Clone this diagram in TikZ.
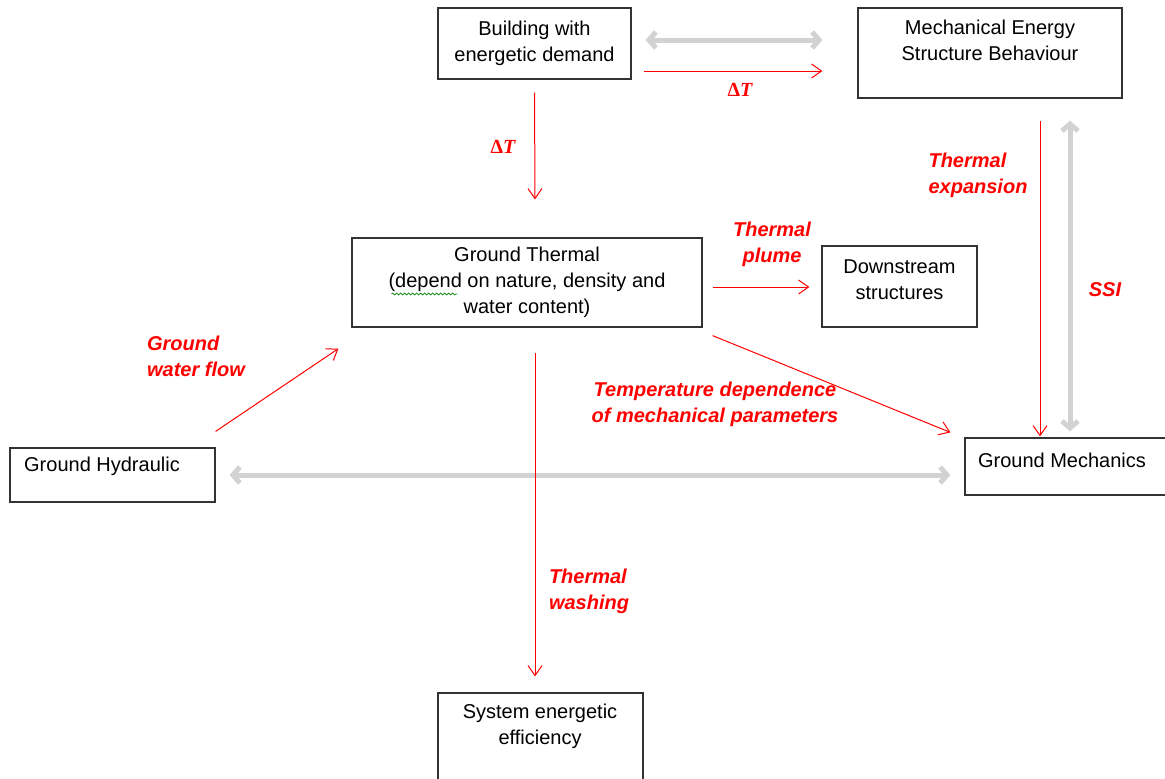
\documentclass[tikz,border=0pt]{standalone}
\usepackage{fontspec}
\setmainfont{Liberation Sans}
\newfontfamily\dtfont{Liberation Serif}
\usetikzlibrary{arrows.meta,calc,decorations.pathmorphing}
\tikzset{heat/.style={red, line width=0.5pt, -{Straight Barb[length=5pt,width=7pt]}},
  couple/.style={gray!35, line width=2.5pt, {Straight Barb[length=3.5pt,width=8pt]}-{Straight Barb[length=3.5pt,width=8pt]}},
  txt/.style={align=center, font=\fontsize{10}{13}\selectfont, inner sep=0pt},
  blk/.style={txt, draw=black!80, line width=0.6pt},
  lbl/.style={text=red, font=\fontsize{10}{13}\selectfont\bfseries\itshape, inner sep=0pt}}
\newcommand{\dT}{{\dtfont\bfseries\fontsize{10}{13}\selectfont\upshape Δ\itshape T}}

\begin{document}
\begin{tikzpicture}[x=0.5pt,y=0.5pt]
  \useasboundingbox (0,0) rectangle (1165,-778);
  \clip (0,0) rectangle (1165,-778);
  % boxes
  \node[blk, minimum width=96.5pt, minimum height=35.5pt] (bld) at (534.5,-43.5) {Building with\\energetic demand};
  \node[blk, minimum width=132pt, minimum height=45pt] (mes) at (990,-53) {};
  \node[txt] (mes-t) at (990,-40) {Mechanical Energy\\Structure Behaviour};
  \node[blk, minimum width=175pt, minimum height=44.5pt] (gth) at (527,-282.5) {Ground Thermal\\(depend on nature, density and\\water content)};
  \node[blk, minimum width=77.5pt, minimum height=40.5pt] (dst) at (899.5,-286.5) {};
  \node[txt] (dst-t) at (899.5,-279.5) {Downstream\\structures};
  \node[blk, minimum width=102.5pt, minimum height=27pt] (ghy) at (112.5,-475) {};
  \node[txt] (ghy-t) at (102,-466) {Ground Hydraulic};
  \node[blk, minimum width=105pt, minimum height=28.5pt] (gme) at (1070,-466.5) {};
  \node[txt] (gme-t) at (1062,-460) {Ground Mechanics};
  \node[blk, minimum width=102.5pt, minimum height=50pt] (sef) at (540.5,-743) {};
  \node[txt] (sef-t) at (540,-726) {System energetic\\efficiency};
  % spell-check squiggle
  \draw[green!55!black, line width=0.3pt, decorate, decoration={snake, amplitude=0.5pt, segment length=2pt}] ($(gth.west)+(40,-11.5)$) -- ++(66,0);
  % labels
  \node[lbl] (dt1) at (740,-90) {\dT};
  \node[lbl] (dt2) at (503,-147) {\dT};
  \node[lbl, align=center] (plume) at (772,-244) {Thermal\\plume};
  \node[lbl, align=left] (expn) at (978,-175) {Thermal\\expansion};
  \node[lbl] (ssi) at (1105,-290) {SSI};
  \node[lbl, align=left] (gwf) at (196,-356) {Ground\\water flow};
  \node[lbl, align=center] (tdep) at (715,-404) {Temperature dependence\\of mechanical parameters};
  \node[lbl, align=left] (wash) at (589,-591) {Thermal\\washing};
  % arrows
  \draw[couple] ($(bld.east)+(14,3.5)$) -- ($(mes.west)+(-35,13)$);
  \draw[heat] ($(bld.east)+(12,-27.5)$) -- ($(mes.west)+(-35,-18)$);
  \draw[heat] ($(bld.south)+(0,-13)$) -- ($(gth.north)+(8,38)$);
  \draw[heat] ($(gth.east)+(10,-4.5)$) -- ($(dst.west)+(-12,-0.5)$);
  \draw[heat] ($(mes.south)+(50,-22)$) -- ($(gme.north)+(-30,1)$);
  \draw[couple] ($(mes.south)+(80,-22)$) -- ($(gme.north)+(0,6)$);
  \draw[heat] ($(gth.south east)+(10,-8)$) -- ($(gme.north west)+(-14,5)$);
  \draw[couple] ($(ghy.east)+(14,0)$) -- ($(gme.west)+(-14,-8.5)$);
  \draw[heat] ($(ghy.north east)+(0,16)$) -- ($(gth.south west)+(-13,-21)$);
  \draw[heat] ($(gth.south)+(8,-25)$) -- ($(sef.north)+(-5.5,16)$);
\end{tikzpicture}
\end{document}
